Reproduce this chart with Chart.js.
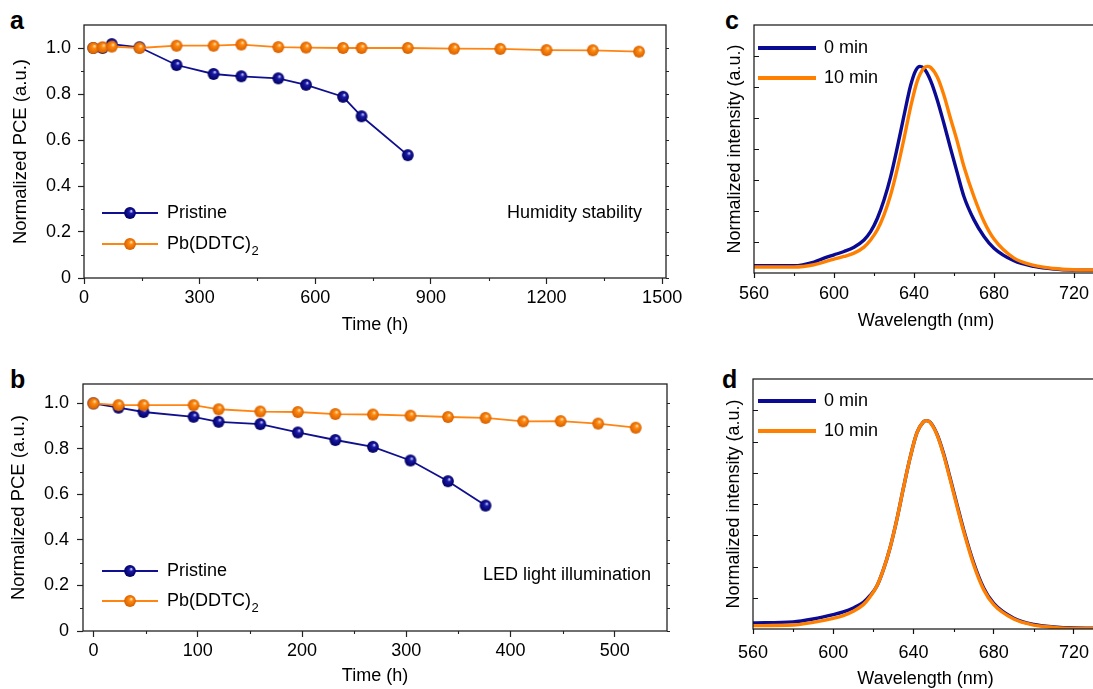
<!DOCTYPE html>
<html>
<head>
<meta charset="utf-8">
<script src="https://cdn.jsdelivr.net/npm/chart.js@4.4.0/dist/chart.umd.min.js"></script>
<style>
  html, body { margin: 0; padding: 0; background: #fff; }
  body { position: relative; width: 1093px; height: 689px; overflow: hidden; }
  canvas { position: absolute; }
  .letter { position: absolute; font: bold 25px 'Liberation Sans', Arial, sans-serif; line-height: 25px; color: #000; }
</style>
</head>
<body>
<div class="letter" style="left:10px;top:8px">a</div>
<div class="letter" style="left:10px;top:367px">b</div>
<div class="letter" style="left:725px;top:8px">c</div>
<div class="letter" style="left:722px;top:367px">d</div>

<canvas id="chartA" width="690" height="340" style="left:0;top:0"></canvas>
<canvas id="chartB" width="690" height="339" style="left:0;top:350px"></canvas>
<canvas id="chartC" width="400" height="340" style="left:700px;top:0"></canvas>
<canvas id="chartD" width="400" height="340" style="left:700px;top:350px"></canvas>

<script>
// ---- data: panel a (humidity stability) ----
const humTime = [24, 48, 72, 144, 240, 336, 408, 504, 576, 672, 720, 840, 960, 1080, 1200, 1320, 1440];
const humPristine = [1.0, 1.0, 1.017, 1.003, 0.926, 0.887, 0.877, 0.868, 0.84, 0.788, 0.703, 0.534];
const humPbDDTC = [1.0, 1.003, 1.006, 1.0, 1.01, 1.01, 1.015, 1.004, 1.002, 1.0, 1.0, 1.0, 0.997, 0.996, 0.991, 0.99, 0.984];
const humXTicks = [0, 300, 600, 900, 1200, 1500];

// ---- data: panel b (LED light illumination) ----
const ledTime = [0, 24, 48, 96, 120, 160, 196, 232, 268, 304, 340, 376, 412, 448, 484, 520];
const ledPristine = [1.0, 0.981, 0.962, 0.941, 0.919, 0.909, 0.872, 0.839, 0.809, 0.749, 0.658, 0.551];
const ledPbDDTC = [1.0, 0.992, 0.992, 0.992, 0.974, 0.964, 0.962, 0.953, 0.951, 0.946, 0.94, 0.936, 0.921, 0.922, 0.911, 0.893];
const ledXTicks = [0, 100, 200, 300, 400, 500];

const pceYTicks = [0, 0.2, 0.4, 0.6, 0.8, 1.0];

// ---- data: panel c (PL spectra) ----
const wlC0 = [560, 580, 590, 595, 600, 605, 610, 615, 618.3, 621.7, 625, 628.3, 631.7, 635, 638.3, 640.8, 643, 645, 648.3, 651.7, 655, 658.3, 661.7, 665, 670, 675, 680, 690, 700, 710, 720, 732];
const plC0 = [0.035, 0.035, 0.053, 0.072, 0.088, 0.104, 0.125, 0.16, 0.2, 0.265, 0.353, 0.465, 0.61, 0.762, 0.907, 0.979, 1.0, 0.99, 0.931, 0.835, 0.722, 0.602, 0.482, 0.369, 0.257, 0.177, 0.12, 0.059, 0.032, 0.019, 0.014, 0.013];
const wlC10 = [560, 580, 590, 600, 605, 610, 615, 618.3, 621.7, 625, 628.3, 631.7, 635, 638.3, 641.7, 645, 646.7, 648.3, 651.7, 655, 658.3, 661.7, 665, 670, 675, 680, 690, 700, 710, 720, 732];
const plC10 = [0.029, 0.029, 0.04, 0.067, 0.08, 0.096, 0.125, 0.16, 0.209, 0.281, 0.377, 0.506, 0.65, 0.803, 0.931, 0.992, 1.0, 0.995, 0.947, 0.859, 0.746, 0.634, 0.514, 0.369, 0.249, 0.164, 0.072, 0.037, 0.022, 0.016, 0.014];

// ---- data: panel d (PL spectra) ----
const wlD = [560, 580, 590, 600, 605, 610, 615, 618.3, 621.7, 625, 628.3, 631.7, 635, 638.3, 641.7, 645, 646.3, 648.3, 651.7, 655, 658.3, 661.7, 665, 670, 675, 680, 690, 700, 710, 720, 732];
const plD0 = [0.029, 0.034, 0.048, 0.069, 0.082, 0.101, 0.128, 0.16, 0.205, 0.285, 0.389, 0.525, 0.677, 0.821, 0.941, 0.995, 1.0, 0.993, 0.936, 0.842, 0.724, 0.597, 0.477, 0.318, 0.197, 0.123, 0.052, 0.022, 0.01, 0.005, 0.004];
const plD10 = [0.016, 0.019, 0.032, 0.051, 0.064, 0.085, 0.117, 0.154, 0.205, 0.285, 0.389, 0.525, 0.677, 0.821, 0.941, 0.995, 1.0, 0.992, 0.933, 0.837, 0.717, 0.589, 0.469, 0.309, 0.189, 0.117, 0.048, 0.019, 0.008, 0.003, 0.003];
const wlXTicks = [560, 600, 640, 680, 720];

const fontFamily = "'Liberation Sans', Arial, Helvetica, sans-serif";
Chart.defaults.font.family = fontFamily;
Chart.defaults.font.size = 18;
Chart.defaults.color = '#000';

const BLUE = '#10108f';
const ORANGE = '#ff8512';

// shaded ball used as point marker
function sphere(base, light, dark, r) {
    const c = document.createElement('canvas');
    const s = Math.ceil(r * 2) + 2;
    c.width = s;
    c.height = s;
    const g = c.getContext('2d');
    const grad = g.createRadialGradient(s / 2 + r * 0.25, s / 2 - r * 0.35, r * 0.05, s / 2, s / 2, r);
    grad.addColorStop(0, light);
    grad.addColorStop(0.3, base);
    grad.addColorStop(1, dark);
    g.fillStyle = grad;
    g.beginPath();
    g.arc(s / 2, s / 2, r, 0, Math.PI * 2);
    g.fill();
    return c;
}
const blueBall = sphere('#1a1aa8', '#d0d0ff', '#000060', 5.9);
const orangeBall = sphere('#ff8a10', '#ffe4b8', '#d86000', 5.9);

function xy(xs, ys) {
    return ys.map((y, i) => ({ x: xs[i], y: y }));
}

// frame, minor ticks, legend and note
const decorPlugin = {
    id: 'decor',
    afterDraw(chart, args, o) {
        const ctx = chart.ctx;
        const a = chart.chartArea;
        const xs = chart.scales.x, ys = chart.scales.y;
        ctx.save();
        ctx.strokeStyle = o.frameColor || '#222';
        ctx.lineWidth = o.frameWidth || 1.3;
        ctx.strokeRect(a.left, a.top, a.right - a.left, a.bottom - a.top);

        ctx.lineWidth = 1.1;
        ctx.beginPath();
        (o.xMinor || []).forEach(v => {
            const px = Math.round(xs.getPixelForValue(v)) + 0.5;
            ctx.moveTo(px, a.bottom); ctx.lineTo(px, a.bottom + 3);
        });
        (o.yMinor || []).forEach(v => {
            const py = Math.round(ys.getPixelForValue(v)) + 0.5;
            ctx.moveTo(a.left, py); ctx.lineTo(a.left - 3, py);
        });
        (o.yRight || []).forEach(v => {
            const py = Math.round(ys.getPixelForValue(v)) + 0.5;
            ctx.moveTo(a.right, py); ctx.lineTo(a.right + 3, py);
        });
        (o.yInner || []).forEach(v => {
            const py = Math.round(ys.getPixelForValue(v)) + 0.5;
            ctx.moveTo(a.left, py); ctx.lineTo(a.left + 5, py);
        });
        ctx.stroke();

        const lg = o.legend;
        if (lg) {
            lg.rows.forEach((row, i) => {
                const ds = chart.data.datasets[row.ds];
                const y = lg.y + i * lg.gap;
                ctx.strokeStyle = ds.borderColor;
                ctx.lineWidth = lg.lineWidth;
                ctx.beginPath();
                ctx.moveTo(lg.x0, y); ctx.lineTo(lg.x1, y);
                ctx.stroke();
                if (lg.marker) {
                    const m = ds.pointStyle;
                    ctx.drawImage(m, (lg.x0 + lg.x1) / 2 - m.width / 2, y - m.height / 2);
                }
                ctx.fillStyle = '#000';
                ctx.textAlign = 'left';
                ctx.textBaseline = 'middle';
                ctx.font = '18px ' + fontFamily;
                let label = ds.label;
                let sub = '';
                if (label.endsWith('\u2082')) { label = label.slice(0, -1); sub = '2'; }
                ctx.fillText(label, lg.tx, y);
                if (sub) {
                    const w = ctx.measureText(label).width;
                    ctx.font = '13px ' + fontFamily;
                    ctx.fillText(sub, lg.tx + w + 0.5, y + 7);
                }
            });
        }
        if (o.note) {
            ctx.fillStyle = '#000';
            ctx.font = '18px ' + fontFamily;
            ctx.textAlign = 'right';
            ctx.textBaseline = 'middle';
            ctx.fillText(o.note.text, o.note.x, o.note.y);
        }
        ctx.restore();
    }
};

function pceChart(id, t, pristine, pb, xMin, xMax, xTicks, fit, decor) {
    return new Chart(document.getElementById(id), {
        type: 'line',
        data: {
            datasets: [{
                label: 'Pristine',
                data: xy(t, pristine),
                borderColor: BLUE,
                borderWidth: 1.8,
                pointStyle: blueBall,
                order: 1
            }, {
                label: 'Pb(DDTC)\u2082',
                data: xy(t, pb),
                borderColor: ORANGE,
                borderWidth: 1.8,
                pointStyle: orangeBall,
                order: 0
            }]
        },
        options: {
            responsive: false,
            animation: false,
            devicePixelRatio: 1,
            layout: { padding: fit.pad },
            plugins: { legend: { display: false }, tooltip: { enabled: false }, decor: decor },
            scales: {
                x: {
                    type: 'linear', min: xMin, max: xMax,
                    afterBuildTicks: s => { s.ticks = xTicks.map(v => ({ value: v })); },
                    afterFit: s => { s.height = fit.xH; },
                    border: { display: false },
                    grid: { drawOnChartArea: false, tickLength: 6, tickColor: '#222', tickWidth: 1.2 },
                    ticks: { padding: 3, maxRotation: 0, autoSkip: false, callback: v => String(v) },
                    title: { display: true, text: 'Time (h)', padding: { top: 0, bottom: fit.xTitle } }
                },
                y: {
                    min: 0, max: fit.yMax,
                    afterBuildTicks: s => { s.ticks = pceYTicks.map(v => ({ value: v })); },
                    afterFit: s => { s.width = fit.yW; },
                    border: { display: false },
                    grid: { drawOnChartArea: false, tickLength: 6, tickColor: '#222', tickWidth: 1.2 },
                    ticks: { padding: fit.yPad, callback: v => v === 0 ? '0' : v.toFixed(1) },
                    title: { display: true, text: 'Normalized PCE (a.u.)', font: { size: 18.5 }, padding: { top: fit.yTitle, bottom: 0 } }
                }
            }
        },
        plugins: [decorPlugin]
    });
}

function plChart(id, xs0, ys0, xs10, ys10, fit, legendY) {
    return new Chart(document.getElementById(id), {
        type: 'line',
        data: {
            datasets: [{
                label: '0 min',
                data: xy(xs0, ys0),
                borderColor: '#0a0a92',
                borderWidth: 3.4,
                pointRadius: 0,
                cubicInterpolationMode: 'monotone',
                order: 1
            }, {
                label: '10 min',
                data: xy(xs10, ys10),
                borderColor: '#ff8000',
                borderWidth: 3.4,
                pointRadius: 0,
                cubicInterpolationMode: 'monotone',
                order: 0
            }]
        },
        options: {
            responsive: false,
            animation: false,
            devicePixelRatio: 1,
            layout: { padding: fit.pad },
            plugins: {
                legend: { display: false }, tooltip: { enabled: false },
                decor: {
                    frameColor: '#111', frameWidth: 1.2,
                    xMinor: [580, 620, 660, 700],
                    yInner: [0.15, 0.3, 0.45, 0.6, 0.75, 0.9, 1.05],
                    legend: { x0: 58, x1: 116, tx: 124, y: legendY, gap: 30, lineWidth: 4, marker: false, rows: [{ ds: 0 }, { ds: 1 }] }
                }
            },
            scales: {
                x: {
                    type: 'linear', min: 560, max: 732,
                    afterBuildTicks: s => { s.ticks = wlXTicks.map(v => ({ value: v })); },
                    afterFit: s => { s.height = fit.xH; },
                    border: { display: false },
                    grid: { drawOnChartArea: false, tickLength: 5, tickColor: '#111', tickWidth: 1.2 },
                    ticks: { padding: fit.xPad, maxRotation: 0, autoSkip: false, callback: v => String(v) },
                    title: { display: true, text: 'Wavelength (nm)', padding: { top: 0, bottom: fit.xTitle } }
                },
                y: {
                    min: 0, max: 1.2,
                    afterFit: s => { s.width = fit.yW; },
                    border: { display: false },
                    grid: { display: false },
                    ticks: { display: false },
                    title: { display: true, text: 'Normalized intensity (a.u.)', padding: { top: fit.yTitle, bottom: 0 } }
                }
            }
        },
        plugins: [decorPlugin]
    });
}

pceChart('chartA', humTime, humPristine, humPbDDTC, 0, 1510, humXTicks,
    { pad: { left: 0, top: 25, right: 24, bottom: 0 }, xH: 62, yW: 84, yMax: 1.1, yPad: 7, xTitle: 4, yTitle: 10 },
    {
        xMinor: [150, 450, 750, 1050, 1350],
        yMinor: [0.1, 0.3, 0.5, 0.7, 0.9],
        yRight: [0, 0.1, 0.2, 0.3, 0.4, 0.5, 0.6, 0.7, 0.8, 0.9, 1.0],
        legend: { x0: 102, x1: 158, tx: 167, y: 213, gap: 31, lineWidth: 1.8, marker: true, rows: [{ ds: 0 }, { ds: 1 }] },
        note: { text: 'Humidity stability', x: 642, y: 213 }
    });

pceChart('chartB', ledTime, ledPristine, ledPbDDTC, -10, 550, ledXTicks,
    { pad: { left: 0, top: 34, right: 23, bottom: 0 }, xH: 58, yW: 83, yMax: 1.085, yPad: 8, xTitle: 2, yTitle: 8 },
    {
        xMinor: [50, 150, 250, 350, 450],
        yMinor: [0.1, 0.3, 0.5, 0.7, 0.9],
        yRight: [0, 0.1, 0.2, 0.3, 0.4, 0.5, 0.6, 0.7, 0.8, 0.9, 1.0],
        legend: { x0: 102, x1: 158, tx: 167, y: 221, gap: 30, lineWidth: 1.8, marker: true, rows: [{ ds: 0 }, { ds: 1 }] },
        note: { text: 'LED light illumination', x: 651, y: 225 }
    });

plChart('chartC', wlC0, plC0, wlC10, plC10,
    { pad: { left: 0, top: 25, right: 2, bottom: 0 }, xH: 67, yW: 54, xPad: 5, xTitle: 8, yTitle: 24 }, 48);

plChart('chartD', wlD, plD0, wlD, plD10,
    { pad: { left: 0, top: 29, right: 2, bottom: 0 }, xH: 61, yW: 53, xPad: 8, xTitle: 0, yTitle: 23 }, 51);
</script>
</body>
</html>
